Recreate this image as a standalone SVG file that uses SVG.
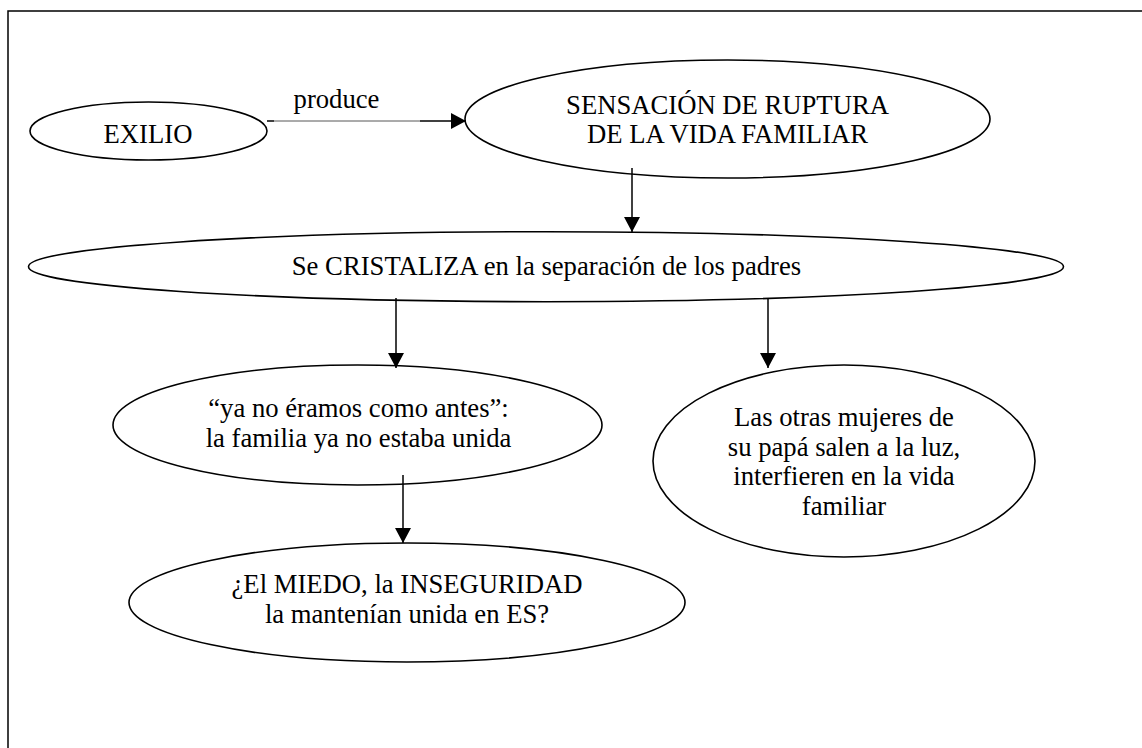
<svg xmlns="http://www.w3.org/2000/svg" width="1142" height="748" viewBox="0 0 1142 748">
  <style>
    .node ellipse { fill: #ffffff; stroke: #000000; stroke-width: 1.6; }
    .edge { stroke: #000000; stroke-width: 1.5; fill: none; }
    .thin { stroke: #444444; stroke-width: 0.9; fill: none; }
  </style>
  <defs>
    <marker id="arrow" markerUnits="userSpaceOnUse" markerWidth="16" markerHeight="16" refX="15" refY="8" orient="auto">
      <path d="M0,0 L15,8 L0,16 z" fill="#000000"/>
    </marker>
  </defs>
  <rect id="frame" x="8" y="11" width="1300" height="900" fill="none" stroke="#000000" stroke-width="1.5"/>

  <g font-family="Liberation Serif, DejaVu Serif, serif" font-size="26.67" text-anchor="middle" fill="#000000">
  <g id="node-exilio" class="node">
    <ellipse cx="148.5" cy="131" rx="118.5" ry="29"/>
    <text x="148" y="143">EXILIO</text>
  </g>
  <g id="node-sensacion" class="node">
    <ellipse cx="727.5" cy="119" rx="262.5" ry="59"/>
    <text x="727.5" y="113.5">SENSACIÓN DE RUPTURA</text>
    <text x="727.5" y="142.5">DE LA VIDA FAMILIAR</text>
  </g>
  <g id="node-cristaliza" class="node">
    <ellipse cx="546" cy="266.7" rx="517.5" ry="35"/>
    <text x="546.5" y="275">Se CRISTALIZA en la separación de los padres</text>
  </g>
  <g id="node-yanoeramos" class="node">
    <ellipse cx="357.5" cy="425" rx="244.5" ry="60"/>
    <text x="358.5" y="416.5">“ya no éramos como antes”:</text>
    <text x="358.5" y="446.5">la familia ya no estaba unida</text>
  </g>
  <g id="node-otras" class="node">
    <ellipse cx="844" cy="461" rx="191" ry="96"/>
    <text x="844" y="426">Las otras mujeres de</text>
    <text x="844" y="455.5">su papá salen a la luz,</text>
    <text x="844" y="485">interfieren en la vida</text>
    <text x="844" y="514.5">familiar</text>
  </g>
  <g id="node-miedo" class="node">
    <ellipse cx="407" cy="602.5" rx="278" ry="59.5"/>
    <text x="407" y="593">¿El MIEDO, la INSEGURIDAD</text>
    <text x="407" y="623">la mantenían unida en ES?</text>
  </g>

  <g id="connectors">
    <line class="edge" x1="267" y1="121" x2="274" y2="121"/>
    <line class="thin" x1="274" y1="121" x2="420" y2="121"/>
    <line class="edge" x1="420" y1="121" x2="466" y2="121" marker-end="url(#arrow)"/>
    <text x="336.5" y="108">produce</text>
    <line class="edge" x1="632" y1="168" x2="632" y2="232" marker-end="url(#arrow)"/>
    <line class="edge" x1="396" y1="298" x2="396" y2="368" marker-end="url(#arrow)"/>
    <line class="edge" x1="768" y1="298" x2="768" y2="368" marker-end="url(#arrow)"/>
    <line class="edge" x1="403" y1="475" x2="403" y2="543" marker-end="url(#arrow)"/>
  </g>
  </g>
</svg>
